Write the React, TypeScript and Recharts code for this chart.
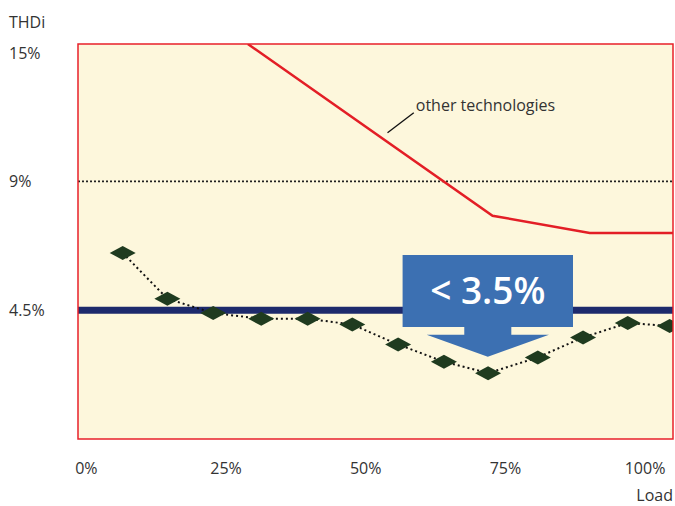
import React from 'react';
import {
  LineChart,
  Line,
  XAxis,
  YAxis,
  CartesianGrid,
  ReferenceLine,
  ReferenceArea,
  Label,
} from 'recharts';

// load (%) positions and THDi (%) values
const loadPoints = [6.5, 14.5, 22.7, 31.3, 39.6, 47.6, 55.8, 64, 71.9, 80.8, 88.9, 96.9, 104.4];
const thdiValues = [6.5, 4.9, 4.4, 4.2, 4.2, 4.0, 3.3, 2.7, 2.3, 2.85, 3.55, 4.05, 3.95];

// "other technologies" curve
const otherLoads = [28.9, 72.7, 90.1, 105];
const otherThdi = [15.4, 7.8, 7.2, 7.2];

const xTicks = [0, 25, 50, 75, 100];
// y axis is drawn with evenly spaced tick levels (0, 4.5, 9, 15)
const yTickValues = [0, 4.5, 9, 15];
const yTickLabels = ['', '4.5%', '9%', '15%'];
const yMax = 15.4;
const xDomain: [number, number] = [-1.5, 105];

const calloutText = '< 3.5%';
const callout = { x1: 56.6, x2: 87.1, top: 6.43, bottom: 2.87 };
const otherLabel = 'other technologies';
const leader = { from: { x: 53.9, y: 11.27 }, to: { x: 58.6, y: 12.2 } };

const FONT = '"Open Sans", sans-serif';
const TEXT = '#333333';

// piecewise mapping from THDi % to the evenly spaced tick level
const toLevel = (v: number) => {
  for (let i = 1; i < yTickValues.length; i++) {
    const a = yTickValues[i - 1];
    const b = yTickValues[i];
    if (v <= b || i === yTickValues.length - 1) {
      return i - 1 + (v - a) / (b - a);
    }
  }
  return 0;
};

const mainData = loadPoints.map((load, i) => ({ load, level: toLevel(thdiValues[i]) }));
const otherData = otherLoads.map((load, i) => ({ load, level: toLevel(otherThdi[i]) }));

const Diamond = (props: any) => {
  const { cx, cy } = props;
  if (cx == null || cy == null) return null;
  return (
    <polygon
      points={`${cx - 13},${cy} ${cx},${cy - 7} ${cx + 13},${cy} ${cx},${cy + 7}`}
      fill="#1f3b1f"
    />
  );
};

const CalloutShape = (props: any) => {
  const { x, y, width: w, height: h } = props;
  const boxH = h * 0.706;
  const stemB = h * 0.784;
  const cx = x + w / 2;
  const stemW = w * 0.276;
  const triW = w * 0.718;
  const d = [
    `M${x},${y}`,
    `L${x + w},${y}`,
    `L${x + w},${y + boxH}`,
    `L${cx + stemW / 2},${y + boxH}`,
    `L${cx + stemW / 2},${y + stemB}`,
    `L${cx + triW / 2},${y + stemB}`,
    `L${cx},${y + h}`,
    `L${cx - triW / 2},${y + stemB}`,
    `L${cx - stemW / 2},${y + stemB}`,
    `L${cx - stemW / 2},${y + boxH}`,
    `L${x},${y + boxH}`,
    'Z',
  ].join(' ');
  return (
    <g>
      <path d={d} fill="#3c70b2" />
      <text
        x={cx}
        y={y + boxH / 2 + 13}
        textAnchor="middle"
        fill="#ffffff"
        fontFamily={FONT}
        fontSize={37}
        fontWeight={600}
      >
        {calloutText}
      </text>
    </g>
  );
};

const YTick = (props: any) => {
  const { y, payload } = props;
  const idx = Math.round(payload.value);
  return (
    <text x={9} y={y} dy={6} textAnchor="start" fill={TEXT} fontFamily={FONT} fontSize={16}>
      {yTickLabels[idx]}
    </text>
  );
};

const XTick = (props: any) => {
  const { x, y, payload } = props;
  return (
    <text x={x} y={y} dy={27} textAnchor="middle" fill={TEXT} fontFamily={FONT} fontSize={16}>
      {`${payload.value}%`}
    </text>
  );
};

export default function App() {
  return (
    <div style={{ position: 'absolute', left: 0, top: 0, background: '#ffffff' }}>
      <LineChart width={675} height={506} margin={{ top: 44, right: 2, bottom: 0, left: 0 }}>
        <CartesianGrid horizontal={false} vertical={false} fill="#fdf7dc" />
        <XAxis
          type="number"
          dataKey="load"
          domain={xDomain}
          ticks={xTicks}
          allowDataOverflow
          axisLine={false}
          tickLine={false}
          height={67}
          tick={<XTick />}
        >
          <Label
            content={(p: any) => {
              const vb = p.viewBox;
              return (
                <text
                  x={vb.x + vb.width}
                  y={501}
                  textAnchor="end"
                  fill={TEXT}
                  fontFamily={FONT}
                  fontSize={16}
                >
                  Load
                </text>
              );
            }}
          />
        </XAxis>
        <YAxis
          type="number"
          domain={[0, toLevel(yMax)]}
          ticks={[1, 2, 3]}
          allowDataOverflow
          axisLine={false}
          tickLine={false}
          width={78}
          tick={<YTick />}
        >
          <Label
            content={() => (
              <text x={9} y={28} fill={TEXT} fontFamily={FONT} fontSize={16}>
                THDi
              </text>
            )}
          />
        </YAxis>
        <ReferenceLine y={toLevel(9)} stroke="#222222" strokeWidth={1.6} strokeDasharray="2 2" zIndex={300} />
        <ReferenceLine y={toLevel(4.5)} stroke="#1d2a6c" strokeWidth={7} zIndex={300} />
        <ReferenceLine
          segment={[
            { x: leader.from.x, y: toLevel(leader.from.y) },
            { x: leader.to.x, y: toLevel(leader.to.y) },
          ]}
          stroke="#111111"
          strokeWidth={1.3}
          zIndex={300}
        >
          <Label
            content={(p: any) => {
              const vb = p.viewBox;
              const tx = vb.x + vb.width + 2;
              const ty = vb.y - 2;
              return (
                <text x={tx} y={ty} fill={TEXT} fontFamily={FONT} fontSize={16}>
                  {otherLabel}
                </text>
              );
            }}
          />
        </ReferenceLine>
        <Line
          data={otherData}
          dataKey="level"
          type="linear"
          stroke="#e31e26"
          strokeWidth={2.5}
          dot={false}
          isAnimationActive={false}
        />
        <Line
          data={mainData}
          dataKey="level"
          type="linear"
          stroke="#111111"
          strokeWidth={2}
          strokeDasharray="2 3"
          dot={<Diamond />}
          activeDot={false}
          isAnimationActive={false}
        />
        <ReferenceArea
          x1={callout.x1}
          x2={callout.x2}
          y1={toLevel(callout.bottom)}
          y2={toLevel(callout.top)}
          shape={<CalloutShape />}
          zIndex={1500}
        />
        <ReferenceArea
          x1={xDomain[0]}
          x2={xDomain[1]}
          y1={0}
          y2={toLevel(yMax)}
          fill="none"
          stroke="#e8202a"
          strokeWidth={1.5}
          zIndex={1600}
        />
      </LineChart>
    </div>
  );
}
